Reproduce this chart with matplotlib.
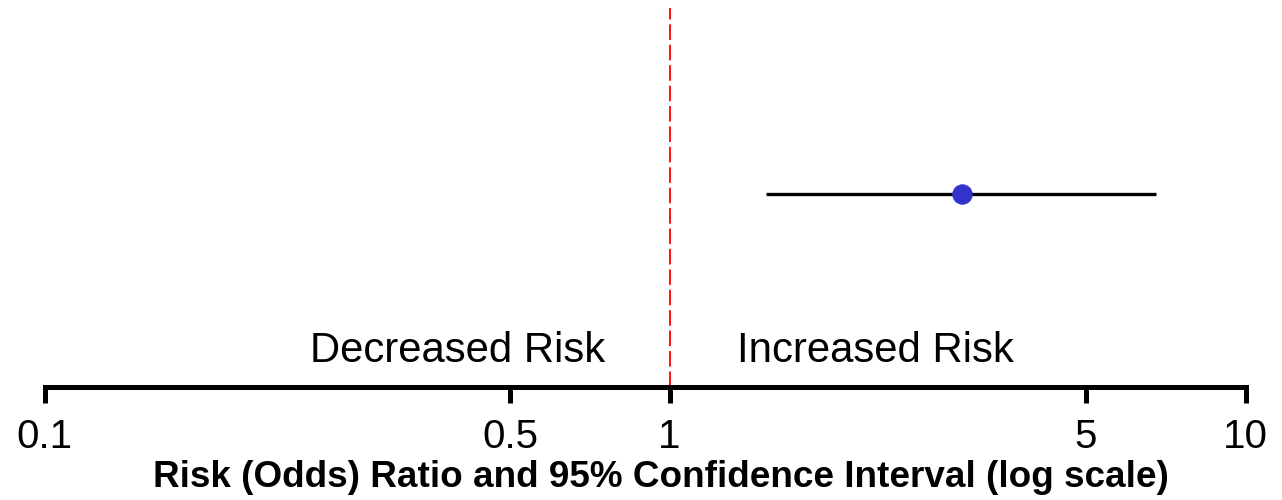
import numpy as np
import matplotlib
matplotlib.use("Agg")
import matplotlib.pyplot as plt

plt.rcParams['font.family'] = ['Liberation Sans', 'DejaVu Sans']

# data
odds_ratio = [3.1]
ci_low = [1.45]
ci_high = [6.8]
rows = [1.0]
tick_vals = [0.1, 0.5, 1, 5, 10]
tick_labels = ["0.1", "0.5", "1", "5", "10"]

# the reference axis is not evenly spaced per decade, warp log10 a bit
warp_log = np.log10(tick_vals)
warp_pos = np.array([0.0, 0.388, 0.5204, 0.8668, 1.0])


def fwd(x):
    x = np.clip(np.asarray(x, dtype=float), 1e-3, None)
    return np.interp(np.log10(x), warp_log, warp_pos)


def inv(y):
    return 10 ** np.interp(y, warp_pos, warp_log)


fig = plt.figure(figsize=(12.82, 5), dpi=100)
ax = fig.add_axes([44.5 / 1282, 113 / 500, 1201 / 1282, 379 / 500])
ax.set_xscale('function', functions=(fwd, inv))
ax.set_xlim(0.1, 10)
ax.set_ylim(0, 1.96)

ax.axvline(1, color='#ff1010', lw=1.4, ls=(0, (8, 2.5)), zorder=1)

ax.hlines(rows, ci_low, ci_high, color='black', lw=2.4, zorder=2)
ax.plot(odds_ratio, rows, 'o', color='#3333cc', ms=13.7, zorder=3)

ax.text(0.4667, 0.066, "Decreased Risk", ha='right', va='baseline',
        fontsize=30.2, transform=ax.transAxes)
ax.text(0.5766, 0.066, "Increased Risk", ha='left', va='baseline',
        fontsize=30.2, transform=ax.transAxes)

for s in ['top', 'left', 'right']:
    ax.spines[s].set_visible(False)
ax.spines['bottom'].set_linewidth(3.6)
ax.spines['bottom'].set_capstyle('projecting')
ax.set_yticks([])
ax.set_xticks(tick_vals)
ax.set_xticklabels(tick_labels)
ax.xaxis.set_minor_locator(matplotlib.ticker.NullLocator())
ax.tick_params(axis='x', length=11.5, width=3.6, labelsize=29, pad=10.5)
ax.set_xlabel("Risk (Odds) Ratio and 95% Confidence Interval (log scale)",
              fontsize=26.6, fontweight='bold', labelpad=3.5, x=0.513)

plt.savefig("out.png", dpi=100)
